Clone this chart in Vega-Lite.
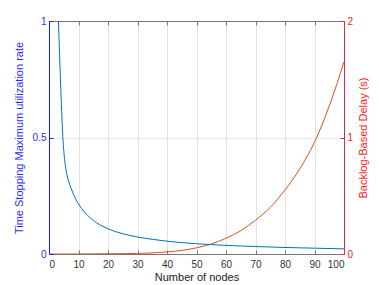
{
  "$schema": "https://vega.github.io/schema/vega-lite/v6.json",
  "autosize": "none",
  "width": 295,
  "height": 233,
  "padding": {"left": 49, "top": 21, "right": 35, "bottom": 31},
  "background": "white",
  "config": {
    "view": {"stroke": null},
    "font": "Liberation Sans",
    "axis": {"labelFont": "Liberation Sans", "titleFont": "Liberation Sans", "labelFontSize": 10, "titleFontSize": 11, "titleFontWeight": "normal", "tickSize": -4, "labelPadding": 7}
  },
  "datasets": {
    "util": [
      {"n": 3.2, "v": 1.0}, {"n": 3.6, "v": 0.85}, {"n": 4.15, "v": 0.66}, {"n": 4.7, "v": 0.5},
      {"n": 5.3, "v": 0.405}, {"n": 6, "v": 0.345}, {"n": 7, "v": 0.3}, {"n": 8, "v": 0.265},
      {"n": 9, "v": 0.237}, {"n": 10, "v": 0.215}, {"n": 12, "v": 0.18}, {"n": 14, "v": 0.155},
      {"n": 16, "v": 0.135}, {"n": 18, "v": 0.12}, {"n": 20, "v": 0.108}, {"n": 25, "v": 0.087},
      {"n": 30, "v": 0.073}, {"n": 35, "v": 0.063}, {"n": 40, "v": 0.055}, {"n": 50, "v": 0.044},
      {"n": 60, "v": 0.037}, {"n": 70, "v": 0.032}, {"n": 80, "v": 0.028}, {"n": 90, "v": 0.025},
      {"n": 100, "v": 0.022}
    ],
    "delay": [
      {"n": 0, "d": 0}, {"n": 5, "d": 0}, {"n": 10, "d": 0.0002}, {"n": 15, "d": 0.001},
      {"n": 20, "d": 0.002}, {"n": 25, "d": 0.003}, {"n": 30, "d": 0.005}, {"n": 35, "d": 0.009},
      {"n": 40, "d": 0.018}, {"n": 45, "d": 0.031}, {"n": 50, "d": 0.053}, {"n": 55, "d": 0.086},
      {"n": 60, "d": 0.135}, {"n": 65, "d": 0.2}, {"n": 70, "d": 0.29}, {"n": 75, "d": 0.4},
      {"n": 80, "d": 0.55}, {"n": 85, "d": 0.73}, {"n": 90, "d": 0.96}, {"n": 95, "d": 1.27},
      {"n": 100, "d": 1.65}
    ]
  },
  "layer": [
    {
      "data": {"name": "delay"},
      "mark": {"type": "line", "color": "#D95319", "strokeWidth": 1, "interpolate": "monotone", "clip": true},
      "encoding": {
        "x": {"field": "n", "type": "quantitative", "scale": {"domain": [0, 100], "nice": false},
          "axis": {"orient": "top", "labels": false, "title": null, "grid": false, "values": [0,10,20,30,40,50,60,70,80,90,100], "domainColor": "#777777", "tickColor": "#777777"}},
        "y": {"field": "d", "type": "quantitative", "scale": {"domain": [0, 2], "nice": false},
          "axis": {"orient": "right", "title": "Backlog-Based Delay (s)", "values": [0, 1, 2], "format": "~g", "grid": false, "titleAngle": 270,
            "domainColor": "#e0284f", "tickColor": "#e0284f", "labelColor": "#ff2020", "titleColor": "#ff2020", "titlePadding": 16}}
      }
    },
    {
      "data": {"name": "util"},
      "mark": {"type": "line", "color": "#0072BD", "strokeWidth": 1, "interpolate": "monotone", "clip": true},
      "encoding": {
        "x": {"field": "n", "type": "quantitative", "scale": {"domain": [0, 100], "nice": false},
          "axis": {"orient": "bottom", "title": "Number of nodes", "values": [0,10,20,30,40,50,60,70,80,90,100], "format": "d", "labelOverlap": false, "grid": true, "gridColor": "#e3e3e3", "labelPadding": 9,
            "domainColor": "#777777", "tickColor": "#777777", "labelColor": "#333333", "titleColor": "#222222", "titlePadding": 2}},
        "y": {"field": "v", "type": "quantitative", "scale": {"domain": [0, 1], "nice": false},
          "axis": {"orient": "left", "title": "Time Stopping Maximum utilization rate", "values": [0, 0.5, 1], "format": "~g", "grid": true, "gridColor": "#e6e6fa",
            "domainColor": "#1a1aff", "tickColor": "#1a1aff", "labelColor": "#2a2aff", "titleColor": "#2a2aff", "titlePadding": 8}}
      }
    }
  ],
  "resolve": {"scale": {"y": "independent"}, "axis": {"x": "independent"}}
}
